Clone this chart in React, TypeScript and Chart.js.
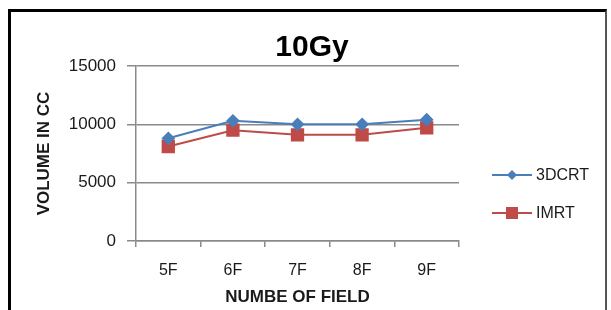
import React, { useEffect, useRef } from "react";
import { Chart, registerables } from "chart.js";

Chart.register(...registerables);

const categories = ["5F", "6F", "7F", "8F", "9F"];
const series3DCRT = [8800, 10300, 10000, 10000, 10400];
const seriesIMRT = [8100, 9500, 9100, 9100, 9700];
const yTicks = [0, 5000, 10000, 15000];
const chartTitle = "10Gy";
const xTitle = "NUMBE OF FIELD";
const yTitle = "VOLUME IN CC";

const FONT = "'Liberation Sans', Arial, sans-serif";
const GRID = "#8a8a8a";
const TEXT = "#1a1a1a";

const overlayPlugin = {
  id: "overlay",
  afterDraw(chart: any) {
    const ctx = chart.ctx;
    const area = chart.chartArea;
    ctx.save();
    // title
    ctx.fillStyle = "#000";
    ctx.font = `bold 30px ${FONT}`;
    ctx.textAlign = "center";
    ctx.textBaseline = "middle";
    ctx.fillText(chartTitle, chart.width / 2 + 4, 36);
    // legend
    const x0 = area.right + 33;
    const ys = [area.top + 109, area.top + 147];
    chart.data.datasets.forEach((ds: any, i: number) => {
      const y = ys[i];
      ctx.strokeStyle = ds.borderColor;
      ctx.lineWidth = 2;
      ctx.beginPath();
      ctx.moveTo(x0, y);
      ctx.lineTo(x0 + 40, y);
      ctx.stroke();
      ctx.fillStyle = ds.pointBackgroundColor;
      ctx.beginPath();
      if (ds.pointStyle === "rect") {
        ctx.rect(x0 + 14, y - 6, 12, 12);
      } else {
        ctx.moveTo(x0 + 20, y - 5);
        ctx.lineTo(x0 + 25, y);
        ctx.lineTo(x0 + 20, y + 5);
        ctx.lineTo(x0 + 15, y);
        ctx.closePath();
      }
      ctx.fill();
      ctx.fillStyle = TEXT;
      ctx.font = `16px ${FONT}`;
      ctx.textAlign = "left";
      ctx.textBaseline = "middle";
      ctx.fillText(ds.label, x0 + 44, y + 1);
    });
    ctx.restore();
  },
};

export default function App() {
  const ref = useRef<HTMLCanvasElement | null>(null);

  useEffect(() => {
    if (!ref.current) return;
    const chart = new Chart(ref.current, {
      type: "line",
      data: {
        labels: categories,
        datasets: [
          {
            label: "3DCRT",
            data: series3DCRT,
            borderColor: "#4a7ebb",
            backgroundColor: "#4a7ebb",
            pointBackgroundColor: "#4a7ebb",
            pointBorderColor: "#4a7ebb",
            pointStyle: "rectRot",
            pointRadius: 5.5,
            borderWidth: 2,
            tension: 0,
          } as any,
          {
            label: "IMRT",
            data: seriesIMRT,
            borderColor: "#be4b48",
            backgroundColor: "#be4b48",
            pointBackgroundColor: "#be4b48",
            pointBorderColor: "#be4b48",
            pointStyle: "rect",
            pointRadius: 8,
            borderWidth: 2,
            tension: 0,
          } as any,
        ],
      },
      options: {
        animation: false,
        responsive: false,
        maintainAspectRatio: false,
        layout: { padding: { top: 54, right: 146, left: 0, bottom: 0 } },
        plugins: {
          legend: { display: false },
          title: { display: false },
          tooltip: { enabled: false },
        },
        scales: {
          x: {
            type: "category",
            offset: true,
            grid: {
              offset: true,
              drawOnChartArea: false,
              drawTicks: true,
              tickLength: 6,
              color: GRID,
              lineWidth: 1.5,
            },
            border: { color: GRID, width: 1.5 },
            ticks: {
              color: TEXT,
              font: { family: FONT, size: 16 },
              padding: 14,
              maxRotation: 0,
            },
            title: {
              display: true,
              text: xTitle,
              color: TEXT,
              font: { family: FONT, size: 17, weight: "bold" },
              padding: { top: 0, bottom: 2 },
            },
            afterFit: (s: any) => {
              s.height = 69;
            },
          },
          y: {
            min: 0,
            max: 15000,
            afterBuildTicks: (s: any) => {
              s.ticks = yTicks.map((v) => ({ value: v }));
            },
            grid: {
              color: GRID,
              lineWidth: 1.5,
              drawTicks: true,
              tickLength: 9,
            },
            border: { color: GRID, width: 1.5 },
            ticks: {
              color: TEXT,
              font: { family: FONT, size: 17 },
              padding: 11,
              callback: (v: any) => String(v),
            },
            title: {
              display: true,
              text: yTitle,
              color: TEXT,
              font: { family: FONT, size: 17, weight: "bold" },
              padding: { top: 23, bottom: 0 },
            },
            afterFit: (s: any) => {
              s.width = 125;
            },
          },
        },
      },
      plugins: [overlayPlugin],
    });
    return () => chart.destroy();
  }, []);

  return (
    <div
      style={{
        position: "absolute",
        left: 8,
        top: 9,
        width: 599,
        height: 301,
        boxSizing: "border-box",
        borderLeft: "3px solid #000",
        borderTop: "3px solid #000",
        borderRight: "2px solid #555",
        background: "#fff",
        overflow: "hidden",
      }}
    >
      <canvas ref={ref} width={594} height={298} style={{ display: "block", width: 594, height: 298 }} />
    </div>
  );
}
